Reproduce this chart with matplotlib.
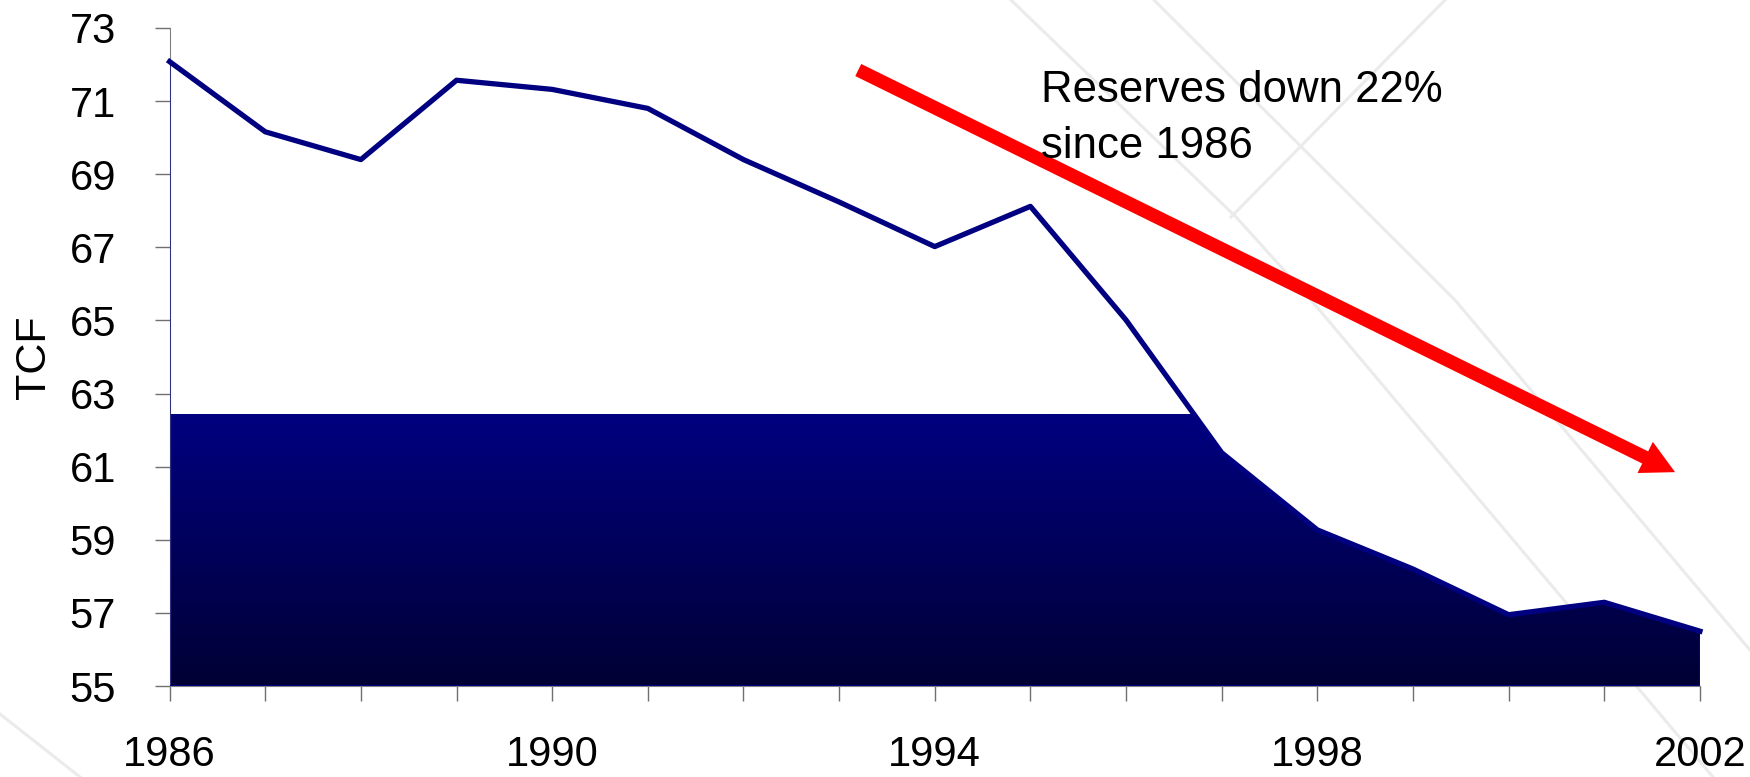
import numpy as np
import matplotlib.pyplot as plt
from matplotlib.lines import Line2D
from matplotlib.colors import LinearSegmentedColormap

plt.rcParams['font.family'] = ['Liberation Sans', 'DejaVu Sans']

# Proved gas reserves, trillion cubic feet
years = [1986, 1987, 1988, 1989, 1990, 1991, 1992, 1993, 1994,
         1995, 1996, 1997, 1998, 1999, 2000, 2001, 2002]
tcf = [72.08, 70.16, 69.4, 71.57, 71.32, 70.8, 69.4, 68.24, 67.02,
       68.12, 65.01, 61.38, 59.27, 58.2, 56.95, 57.29, 56.5]
fill_top = 62.44  # the dark fill is cut off at this level
y_ticks = list(range(55, 74, 2))
x_labels = [1986, 1990, 1994, 1998, 2002]
note = "Reserves down 22%\nsince 1986"
arrow_start = (1993.2, 71.85)
arrow_end = (2001.74, 60.85)

navy = '#000080'

fig = plt.figure(figsize=(17.5, 7.77), dpi=100)
ax = fig.add_axes([0.0969, 0.1171, 0.8745, 0.8469])
ax.patch.set_alpha(0)

# faint decorative slide lines behind everything (pixel coords of the slide)
bg_lines = [[(1011, 0), (1236, 217), (1311, 300), (1713, 777)],
            [(1154, 0), (1455, 300), (1750, 650)],
            [(1445, 0), (1231, 217)],
            [(0, 714), (80, 777)]]
for pts in bg_lines:
    xs = [p[0] / 1750 for p in pts]
    ys = [1 - p[1] / 777 for p in pts]
    fig.add_artist(Line2D(xs, ys, transform=fig.transFigure,
                          color='#ebebeb', lw=2.2, zorder=-5))

ax.set_xlim(years[0], years[-1])
ax.set_ylim(55, 73)

# area outline (thin edges) and gradient fill clipped to it
poly = ax.fill_between(years, 55, tcf, facecolor='none', edgecolor=navy, lw=1.5, zorder=3)
cmap = LinearSegmentedColormap.from_list('grad', ['#000034', navy])
grad = np.linspace(0, 1, 256).reshape(-1, 1)
img = ax.imshow(grad, cmap=cmap, origin='lower', aspect='auto',
                extent=[years[0], years[-1], 55, fill_top], zorder=2)
img.set_clip_path(poly.get_paths()[0], transform=ax.transData)

ax.plot(years, tcf, color=navy, lw=3.8, zorder=4, clip_on=False)

ax.annotate('', xy=arrow_end, xytext=arrow_start,
            arrowprops=dict(arrowstyle='simple,head_length=24,head_width=25,tail_width=9.7',
                            color='red', lw=0, mutation_scale=1, shrinkA=0, shrinkB=0),
            zorder=5)
ax.text(1995.11, 71.84, note, fontsize=31.5, va='top', ha='left', linespacing=1.45, zorder=6)

ax.set_yticks(y_ticks)
ax.set_xticks(years)
ax.set_xticklabels([str(y) if y in x_labels else '' for y in years])
ax.tick_params(axis='both', direction='out', length=11, width=1, colors='#707070',
               labelcolor='black', labelsize=30)
ax.tick_params(axis='y', pad=27.5)
ax.tick_params(axis='x', pad=24.5)
for side in ['top', 'right']:
    ax.spines[side].set_visible(False)
for side in ['left', 'bottom']:
    ax.spines[side].set_color('#808080')
ax.set_ylabel('TCF', fontsize=31, labelpad=11)

fig.savefig('out.png', dpi=100)
